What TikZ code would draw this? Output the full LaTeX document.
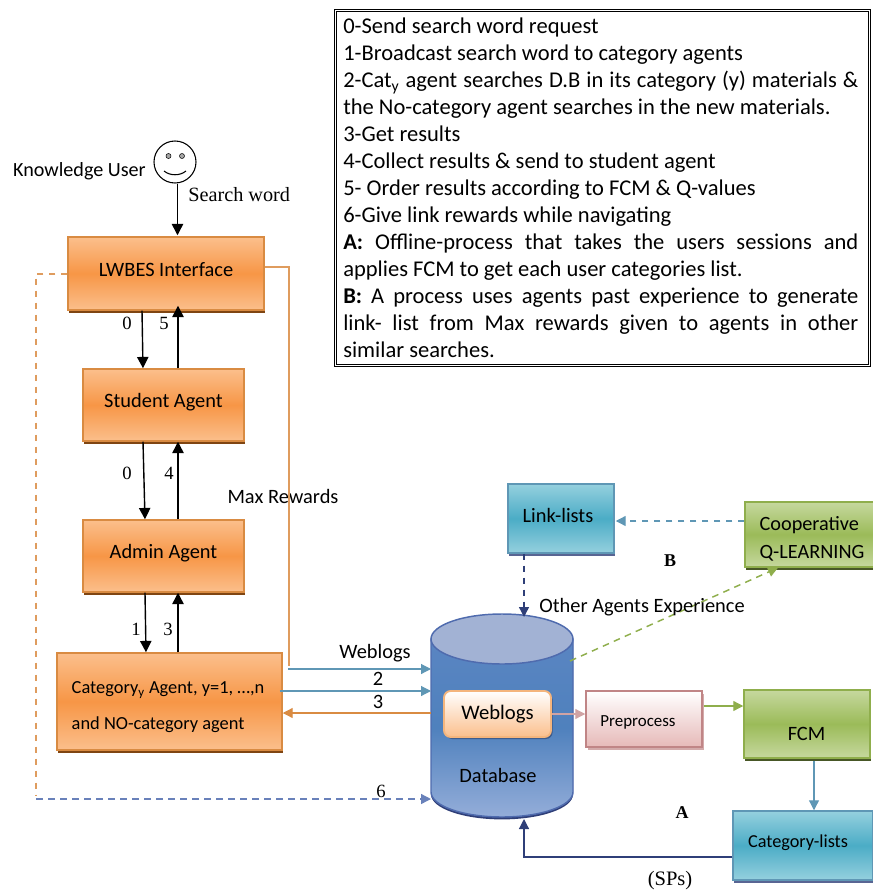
\documentclass[tikz,border=0pt]{standalone}
\usepackage{fontspec}
\setmainfont{Carlito}
\newfontfamily\labelfont{Liberation Serif}
\usetikzlibrary{arrows.meta,shapes.geometric,shadows}
\definecolor{orangemid}{HTML}{F79646}
\definecolor{orangetop}{HTML}{FBBF8C}
\definecolor{orangeline}{HTML}{D98B42}
\definecolor{orangeshadow}{HTML}{7F4512}
\definecolor{tealmid}{HTML}{4BACC6}
\definecolor{tealtop}{HTML}{95D0DE}
\definecolor{tealline}{HTML}{5F97B5}
\definecolor{greenmid}{HTML}{9BBB59}
\definecolor{greentop}{HTML}{C6D89E}
\definecolor{greenline}{HTML}{8FAE4C}
\definecolor{pinkline}{HTML}{C08586}
\definecolor{pinkbot}{HTML}{E6B9B8}
\definecolor{navyline}{HTML}{2F3F78}
\definecolor{dbline}{HTML}{4F6BAE}
\definecolor{dbtop}{HTML}{A2B2D4}
\definecolor{dbupper}{HTML}{5A85C2}
\definecolor{dbmid}{HTML}{4F81BD}
\definecolor{dblower}{HTML}{94ADD9}
\def\dbbody{(431,639) -- (431,792) arc[start angle=180, end angle=0, x radius=71, y radius=25] -- (573,639) -- cycle}
\tikzset{
	boxsize/.style 2 args={minimum width=#1*0.75pt, minimum height=#2*0.75pt, inner sep=0pt},
	agentbox/.style={draw=orangeline, line width=1.1pt, top color=orangetop, bottom color=orangetop, middle color=orangemid,
		general shadow={fill=orangeshadow, shadow xshift=0.7pt, shadow yshift=-2pt}},
	listbox/.style={draw=tealline, line width=1.1pt, top color=tealtop, bottom color=tealtop, middle color=tealmid,
		general shadow={fill=navyline!80, shadow xshift=0.7pt, shadow yshift=-2pt}},
	greenbox/.style={draw=greenline, line width=1.1pt, top color=greentop, bottom color=greentop, middle color=greenmid,
		general shadow={fill=greenline!50!black, shadow xshift=0.7pt, shadow yshift=-2pt}},
	plain/.style={inner sep=0pt, font=\fontsize{15.3}{18}\selectfont},
	num/.style={inner sep=0pt, font=\labelfont\fontsize{14}{16}\selectfont},
	blackarrow/.style={line width=1.05pt, -{Triangle[width=8.5pt,length=8.5pt]}},
	thinarrow/.style={line width=0.9pt, -{Triangle[width=7.5pt,length=7.5pt]}},
	dashline/.style={dash pattern=on 5pt off 4pt}
}
\begin{document}
\begin{tikzpicture}[x=0.75pt, y=-0.75pt]
	%%%%% START %%%%%
	\useasboundingbox (0,0) rectangle (872,892);

	% legend
	\node[draw, double, double distance=1pt, line width=0.6pt, anchor=north west, minimum width=534*0.75pt, minimum height=355*0.75pt,
		inner xsep=0pt, inner ysep=0pt] (legend) at (335,10) {};
	\node[inner sep=0pt, anchor=north west, text width=515*0.75pt, align=justify, font=\fontsize{16.9}{20.25}\selectfont] (legendtext) at (343,18) {%
		0-Send search word request\\
		1-Broadcast search word to category agents\\
		2-Cat\textsubscript{y} agent searches D.B in its category (y) materials \&\linebreak
		the No-category agent searches in the new materials.\\
		3-Get results\\
		4-Collect results \& send to student agent\\
		5- Order results according to FCM \& Q-values\\
		6-Give link rewards while navigating\\
		\textbf{A:} Offline-process that takes the users sessions and\linebreak
		applies FCM to get each user categories list.\\
		\textbf{B:} A process uses agents past experience to generate\linebreak
		link- list from Max rewards given to agents in other\linebreak
		similar searches.};

	% user
	\node[draw, circle, line width=0.8pt, minimum size=42*0.75pt, inner sep=0pt] (user) at (175,162) {};
	\draw[fill=black!35, line width=0.4pt] (168.5,156) circle (2.5);
	\draw[fill=black!35, line width=0.4pt] (182,156) circle (2.5);
	\draw[line width=0.8pt] (164,171) .. controls (170,176) and (180,176) .. (186,171);
	\node[plain, anchor=east, font=\fontsize{15.1}{18}\selectfont] (username) at (146,171.5) {Knowledge User};
	\node[num, anchor=west, font=\labelfont\fontsize{15.2}{18}\selectfont] (searchword) at (188,195) {Search word};

	% agents
	\node[agentbox, boxsize={196}{73}, label={[plain, shift={(0,-4)}]center:LWBES Interface}] (lwbes) at (166,273.5) {};
	\node[agentbox, boxsize={161}{72}, label={[plain, shift={(0,-3)}]center:Student Agent}] (student) at (163.5,405) {};
	\node[agentbox, boxsize={161}{72}, label={[plain, shift={(0,-3)}]center:Admin Agent}] (admin) at (163.5,556) {};
	\node[agentbox, boxsize={225}{97}, label={[plain, align=left, font=\fontsize{13.8}{27}\selectfont, shift={(-1.5,5.5)}]center:Category\textsubscript{y} Agent, y=1, \ldots,n\\and NO-category agent}] (category) at (169.5,701.5) {};

	\draw[blackarrow] ([shift={(2.5,0)}]user.south) -- ([shift={(11.5,-1)}]lwbes.north);
	\draw[blackarrow] ([shift={(-24,0)}]lwbes.south) -- ([shift={(-20.5,0)}]student.north);
	\draw[blackarrow] ([shift={(14.5,0)}]student.north) -- ([shift={(12,-5)}]lwbes.south);
	\draw[blackarrow] ([shift={(-20.5,0)}]student.south) -- ([shift={(-18.5,0)}]admin.north);
	\draw[blackarrow] ([shift={(14.5,0)}]admin.north) -- ([shift={(14.5,0)}]student.south);
	\draw[blackarrow] ([shift={(-18.5,0)}]admin.south) -- ([shift={(-23.5,0)}]category.north);
	\draw[blackarrow] ([shift={(8.5,0)}]category.north) -- ([shift={(14.5,0)}]admin.south);

	\node[num] (zeroa) at (127,323) {0};
	\node[num] (fivea) at (164,323) {5};
	\node[num] (zerob) at (127,473) {0};
	\node[num] (foura) at (169,473) {4};
	\node[num] (onea) at (136,629) {1};
	\node[num] (threea) at (168,629) {3};
	\node[plain] (maxrewards) at (283,496) {Max Rewards};

	% database
	\node[cylinder, shape border rotate=90, aspect=0.7, minimum width=142*0.75pt, minimum height=203*0.75pt, inner sep=0pt] (db) at (501.5,715.5) {};
	\fill[navyline, yshift=-1.8pt] \dbbody;
	\draw[draw=dbline, line width=1.1pt, top color=dbupper, bottom color=dblower, middle color=dbmid] \dbbody;
	\draw[draw=dbline, line width=1.1pt, fill=dbtop] (502,639) ellipse (71 and 25);
	\node[plain] (dbtext) at (498,775) {Database};
	\node[draw=orangetop!80!orangeline, line width=1.4pt, rounded corners=5pt, top color=white, bottom color=orangetop, boxsize={107}{46},
		general shadow={fill=dbline!60!black, shadow xshift=1.2pt, shadow yshift=-1.5pt, opacity=0.6}, font=\fontsize{15.5}{18}\selectfont] (weblogs) at (497.5,714) {Weblogs};

	% right side boxes
	\node[draw=pinkline, line width=1.1pt, top color=white, bottom color=pinkbot, boxsize={116}{56},
		general shadow={fill=pinkline!70, shadow xshift=1.5pt, shadow yshift=-2pt},
		label={[plain, font=\fontsize{12.7}{14}\selectfont, shift={(-6,3)}]center:Preprocess}] (preprocess) at (644,719) {};
	\node[greenbox, boxsize={126}{68}, label={[plain, shift={(-0.5,10)}]center:FCM}] (fcm) at (807,724) {};
	\node[listbox, boxsize={140}{69}, label={[plain, font=\fontsize{13.7}{15}\selectfont, shift={(-5,-2.5)}]center:Category-lists}] (catlists) at (803,845.5) {};
	\node[listbox, boxsize={106}{69}, label={[plain, shift={(-3,-3.5)}]center:Link-lists}] (linklists) at (561,518.5) {};
	\node[greenbox, boxsize={130}{65}, label={[plain, align=left, font=\fontsize{15.2}{21}\selectfont, shift={(2,4.5)}]center:Cooperative\\Q-LEARNING}] (cooperative) at (810,534.5) {};

	% connectors
	\draw[orangeline!85, line width=0.8pt] ([shift={(0,-6.5)}]lwbes.east) -| ([shift={(119.5,-35.5)}]category.center);
	\draw[orangeline!85, line width=0.8pt, dashline] ([shift={(0,0.5)}]lwbes.west) -| ([shift={(-133.5,93.5)}]category.center);
	\draw[thinarrow, tealline] ([shift={(118.5,-32.5)}]category.center) -- ([shift={(-70.5,-46.5)}]db.center);
	\node[plain] (weblogslabel) at (375,653) {Weblogs};
	\draw[thinarrow, tealline] ([shift={(-3,-10.5)}]category.east) -- ([shift={(-70.5,-24.5)}]db.center);
	\draw[thinarrow, orangeline] ([shift={(-70.5,-2.5)}]db.center) -- ([shift={(0,11.5)}]category.east);
	\node[plain] (twoa) at (378,679) {2};
	\node[plain] (threeb) at (378,702) {3};
	\draw[thinarrow, dbline!85!white, line width=1pt, dashline] ([shift={(-133.5,97.5)}]category.center) -- ([shift={(-70.5,83.5)}]db.center);
	\node[num] (sixa) at (381,791) {6};

	\draw[thinarrow, navyline, line width=1pt, dashline] ([shift={(-37,0)}]linklists.south) -- ([shift={(22.5,-98.5)}]db.center);
	\draw[thinarrow, tealline, line width=1pt, dashline] ([shift={(0,-13.5)}]cooperative.west) -- ([shift={(1,2.5)}]linklists.east);
	\draw[thinarrow, greenline, line width=1.1pt, dashline] ([shift={(68.5,-54.5)}]db.center) -- ([shift={(-32,0)}]cooperative.south);
	\node[plain] (otheragents) at (642,607.5) {Other Agents Experience};
	\draw[thinarrow, pinkline!75] (weblogs.east) -- (preprocess.west |- weblogs.east);
	\draw[thinarrow, greenline] ([shift={(1,-13)}]preprocess.east) -- ([shift={(0,-18)}]fcm.west);
	\draw[thinarrow, tealline] ([shift={(7,2)}]fcm.south) -- ([shift={(11,0)}]catlists.north);
	\draw[thinarrow, navyline] ([shift={(0,11.5)}]catlists.west) -| ([shift={(22.5,103.5)}]db.center);

	\node[num, font=\labelfont\bfseries\fontsize{13.5}{15}\selectfont] (labela) at (682,813) {A};
	\node[num, font=\labelfont\bfseries\fontsize{13.5}{15}\selectfont] (labelb) at (670,561) {B};
	\node[num, font=\labelfont\fontsize{15.4}{18}\selectfont] (sps) at (670,881) {(SPs)};
	%%%%% END %%%%%
\end{tikzpicture}
\end{document}
